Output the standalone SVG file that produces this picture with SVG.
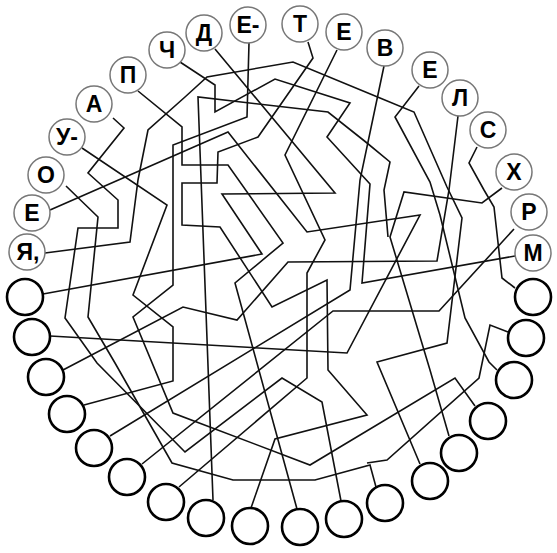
<svg xmlns="http://www.w3.org/2000/svg" width="557" height="553" viewBox="0 0 557 553">
<style>
.ln{fill:none;stroke:#111;stroke-width:1.6;stroke-linejoin:miter}
.lc{fill:#fff;stroke:#777;stroke-width:1.5}
.ec{fill:#fff;stroke:#000;stroke-width:2.6}
.t{font-family:"Liberation Sans",Arial,sans-serif;font-weight:bold;font-size:23px;text-anchor:middle;fill:#000}
</style>
<rect width="557" height="553" fill="#fff"/>
<g id="connectors">
<polyline class="ln" points="215,49 335,193 222,194 262,254 43,294"/>
<polyline class="ln" points="50,210 228,132 307,232 420,215 347,353 50,336"/>
<polyline class="ln" points="458,116 449,190 437,261 288,262 237,320 183,307 63,370"/>
<polyline class="ln" points="82,148 167,205 133,295 173,327 173,381 84,405"/>
<polyline class="ln" points="384,66 360,180 350,290 110,436"/>
<polyline class="ln" points="514,229 439,311 333,311 142,464"/>
<polyline class="ln" points="337,50 285,155 325,240 307,273 307,378 179,487"/>
<polyline class="ln" points="180,62 215,85 215,112 275,79 350,103 327,137 370,184 362,283 515,256"/>
<polyline class="ln" points="213,500 198,97 328,112 367,143 390,162 384,190 388,237"/>
<polyline class="ln" points="449,436 430,370 390,237 404,192 482,203 502,188"/>
<polyline class="ln" points="497,370 489,362 465,318 440,215 430,182 395,117 419,86"/>
<polyline class="ln" points="45,253 130,242 138,180 148,130 185,97 207,77 293,62 380,98 414,112 447,187 462,218 447,343 377,362 420,464"/>
<polyline class="ln" points="249,43 247,117 173,145 173,285 133,317 173,413 310,465 455,378 475,406"/>
<polyline class="ln" points="477,147 469,163 484,190 494,207 502,278 515,288"/>
<polyline class="ln" points="138,91 182,127 182,165 228,165 283,243 235,283 297,509"/>
<polyline class="ln" points="113,118 124,128 88,173 118,200 118,228 78,228 65,318 97,363 185,452 282,378 322,402 341,501"/>
<polyline class="ln" points="308,42 313,58 258,137 218,152 217,183 182,183 182,225 220,227 272,307 327,280 328,370 367,415 275,439 251,508"/>
<polyline class="ln" points="66,186 98,217 88,317 115,363 172,463 233,480 315,480 370,465 376,487"/>
<polyline class="ln" points="508,332 490,325 479,378 387,460 367,463"/>
</g>
<g id="n-ya"><circle class="lc" cx="27" cy="252" r="18"/><text class="t" x="28" y="260">Я,</text></g>
<g id="n-e1"><circle class="lc" cx="32" cy="213" r="18"/><text class="t" x="32" y="221">Е</text></g>
<g id="n-o"><circle class="lc" cx="46" cy="175" r="18"/><text class="t" x="46" y="183">О</text></g>
<g id="n-u"><circle class="lc" cx="67" cy="137" r="18"/><text class="t" x="67" y="145">У-</text></g>
<g id="n-a"><circle class="lc" cx="94" cy="104" r="18"/><text class="t" x="94" y="112">А</text></g>
<g id="n-p"><circle class="lc" cx="128" cy="75" r="18"/><text class="t" x="128" y="83">П</text></g>
<g id="n-ch"><circle class="lc" cx="167" cy="50" r="18"/><text class="t" x="167" y="58">Ч</text></g>
<g id="n-d"><circle class="lc" cx="204" cy="33" r="18"/><text class="t" x="204" y="41">Д</text></g>
<g id="n-e2"><circle class="lc" cx="248" cy="25" r="18"/><text class="t" x="248" y="33">Е-</text></g>
<g id="n-t"><circle class="lc" cx="300" cy="24" r="18"/><text class="t" x="300" y="32">Т</text></g>
<g id="n-e3"><circle class="lc" cx="344" cy="32" r="18"/><text class="t" x="344" y="40">Е</text></g>
<g id="n-v"><circle class="lc" cx="385" cy="48" r="18"/><text class="t" x="385" y="56">В</text></g>
<g id="n-e4"><circle class="lc" cx="430" cy="70" r="18"/><text class="t" x="430" y="78">Е</text></g>
<g id="n-l"><circle class="lc" cx="460" cy="98" r="18"/><text class="t" x="460" y="106">Л</text></g>
<g id="n-s"><circle class="lc" cx="488" cy="130" r="18"/><text class="t" x="488" y="138">С</text></g>
<g id="n-h"><circle class="lc" cx="514" cy="172" r="18"/><text class="t" x="514" y="180">Х</text></g>
<g id="n-r"><circle class="lc" cx="529" cy="212" r="18"/><text class="t" x="529" y="220">Р</text></g>
<g id="n-m"><circle class="lc" cx="533" cy="253" r="18"/><text class="t" x="533" y="261">М</text></g>
<g id="e1"><circle class="ec" cx="25" cy="297" r="18"/></g>
<g id="e2"><circle class="ec" cx="32" cy="337" r="18"/></g>
<g id="e3"><circle class="ec" cx="46" cy="377" r="18"/></g>
<g id="e4"><circle class="ec" cx="67" cy="414" r="18"/></g>
<g id="e5"><circle class="ec" cx="94" cy="448" r="18"/></g>
<g id="e6"><circle class="ec" cx="127" cy="477" r="18"/></g>
<g id="e7"><circle class="ec" cx="166" cy="502" r="18"/></g>
<g id="e8"><circle class="ec" cx="206" cy="518" r="18"/></g>
<g id="e9"><circle class="ec" cx="250" cy="526" r="18"/></g>
<g id="e10"><circle class="ec" cx="300" cy="527" r="18"/></g>
<g id="e11"><circle class="ec" cx="344" cy="519" r="18"/></g>
<g id="e12"><circle class="ec" cx="385" cy="503" r="18"/></g>
<g id="e13"><circle class="ec" cx="430" cy="481" r="18"/></g>
<g id="e14"><circle class="ec" cx="459" cy="453" r="18"/></g>
<g id="e15"><circle class="ec" cx="488" cy="421" r="18"/></g>
<g id="e16"><circle class="ec" cx="514" cy="380" r="18"/></g>
<g id="e17"><circle class="ec" cx="526" cy="338" r="18"/></g>
<g id="e18"><circle class="ec" cx="533" cy="297" r="18"/></g>
</svg>
